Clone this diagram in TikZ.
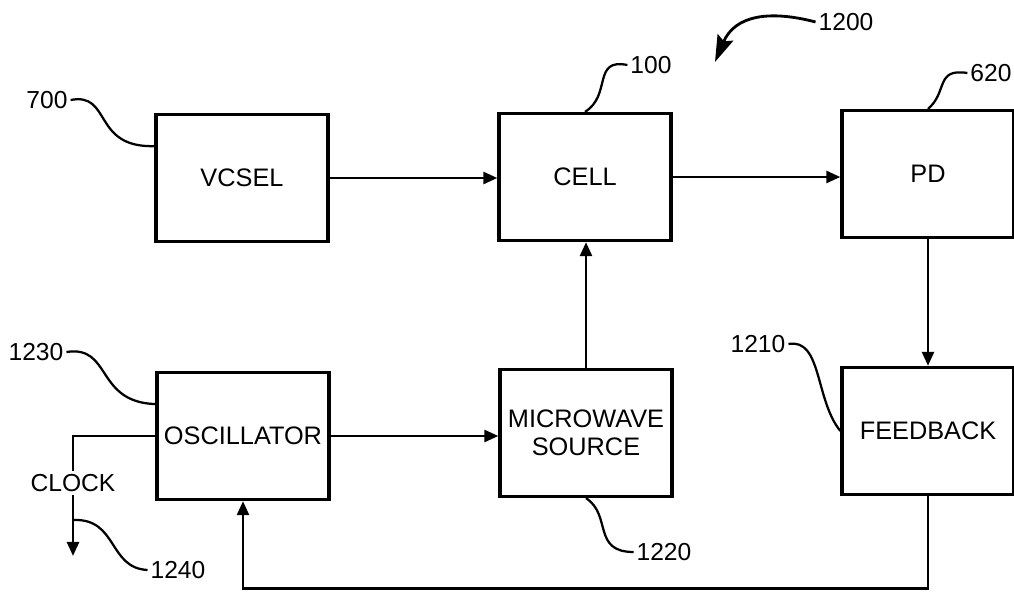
\documentclass[tikz,border=0pt]{standalone}
\usepackage{fontspec}
\setmainfont{Liberation Sans}
\usetikzlibrary{arrows.meta}

\begin{document}
\begin{tikzpicture}[
    x=0.025cm, y=-0.025cm,
    box/.style={draw, line width=2.3pt, minimum width=4.3cm, minimum height=3.175cm, align=center, font=\fontsize{18}{20}\selectfont},
    arrow/.style={-{Triangle[length=10pt, width=8.5pt]}, line width=2pt},
    wire/.style={line width=2pt},
    leader/.style={line width=1.6pt},
    pointer/.style={-{Stealth[length=19pt, width=12pt, inset=3pt]}, line width=2pt},
    tag/.style={font=\fontsize{17.5}{20}\selectfont, inner sep=2pt}
]
\useasboundingbox (0,0) rectangle (1014,592);

% Top row - light path
\node[box] (vcsel) at (242,178) {VCSEL};
\node[box] (cell) at (585,177) {CELL};
\node[box] (pd) at (928,174) {PD};

% Bottom row - oscillator loop
\node[box] (osc) at (243,436) {OSCILLATOR};
\node[box] (mw) at (586,433) {MICROWAVE\\SOURCE};
\node[box] (fb) at (928,431) {FEEDBACK};

% Signal arrows
\draw[arrow] (vcsel.east) -- (vcsel.east -| cell.west);
\draw[arrow] (cell.east) -- (cell.east -| pd.west);
\draw[arrow] (mw.north) -- (mw.north |- cell.south);
\draw[arrow] (osc.east) -- (osc.east -| mw.west);
\draw[arrow] (pd.south) -- (pd.south |- fb.north);
\draw[arrow] (fb.south) -- ++(0,92.5) -| (osc.south);

% Clock output
\node[tag] (clock) at (73,483) {CLOCK};
\coordinate (clkout) at (73,556);
\coordinate (clktap) at (73,520);
\draw[wire] (osc.west) -| (clock.north);
\draw[arrow] (clock.south) -- (clkout);

% Reference numbers
\node[tag] (n700) at (47,100) {700};
\node[tag] (n1230) at (36,352) {1230};
\node[tag] (n1240) at (178,570) {1240};
\node[tag] (n1220) at (664,552) {1220};
\node[tag] (n1210) at (758,344) {1210};
\node[tag] (n100) at (651,65) {100};
\node[tag] (n620) at (991,73) {620};
\node[tag] (n1200) at (846,22) {1200};
\coordinate (p1200) at (715,62);

% Leader lines
\draw[leader] (n700.east) .. controls (112,92) and (92,148) .. (vcsel.160);
\draw[leader] (n1230.east) .. controls (112,345) and (95,402) .. (osc.160);
\draw[leader] (clktap) .. controls (118,518) and (108,568) .. (n1240.west);
\draw[leader] (mw.south) .. controls (612,515) and (592,552) .. (n1220.west);
\draw[leader] (n1210.east) .. controls (822,338) and (815,400) .. (fb.west);
\draw[leader] (cell.north) .. controls (612,95) and (592,58) .. (n100.west);
\draw[leader] (pd.north) .. controls (948,92) and (935,68) .. (n620.west);
\draw[pointer] (n1200.west) .. controls (770,10) and (735,15) .. (p1200);

\end{tikzpicture}
\end{document}
